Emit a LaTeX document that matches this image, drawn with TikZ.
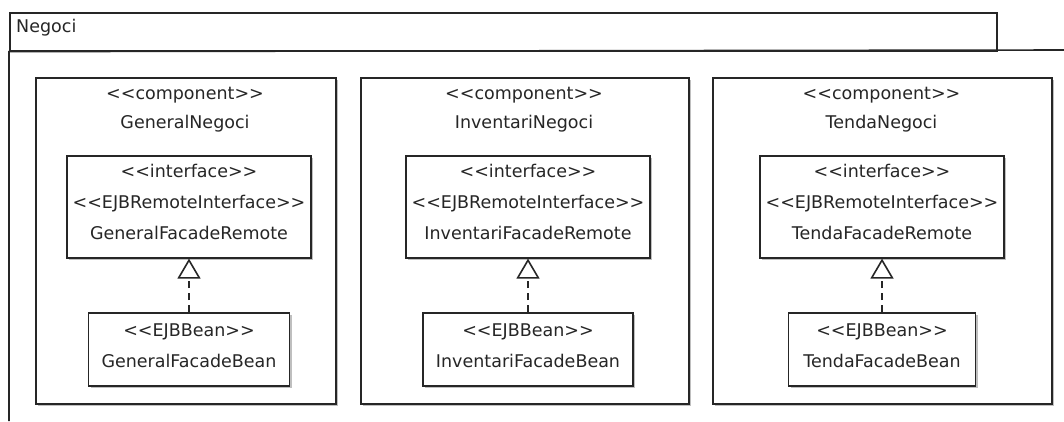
\documentclass[tikz,border=0pt]{standalone}
\usepackage{fontspec}
\newfontfamily\umlfont{DejaVu Sans}
\usetikzlibrary{arrows.meta,shadows}
\begin{document}
\begin{tikzpicture}[x=1pt,y=-1pt,
  every node/.style={font=\umlfont\fontsize{17.5}{31}\selectfont, text=black!85},
  frame/.style={draw=black!85, line width=1.6pt},
  box/.style={frame, fill=white, general shadow={fill=black!25, shadow xshift=2pt, shadow yshift=-2pt}, inner sep=0pt, align=center},
  ifacebox/.style={box, anchor=north, minimum width=244pt, minimum height=102pt, text depth=10pt},
  beanbox/.style={box, anchor=north, minimum height=73pt, text depth=7pt},
  txt/.style={inner sep=0pt},
  realize/.style={frame, dash pattern=on 7pt off 5pt, -{Triangle[open, length=20pt, width=23pt, line width=1.6pt]}}
]
\useasboundingbox (0,0) rectangle (1064,421);
\fill[white] (0,0) rectangle (1064,421);
% package
\node[frame, fill=white, anchor=north west, minimum width=987pt, minimum height=38pt, inner sep=0pt] (tab) at (9,12) {};
\node[txt, anchor=west] (pkgname) at (16,28) {Negoci};
\coordinate (bodyR) at (1064,50);
\coordinate (bodyB) at (9,421);
\draw[frame] (bodyB) -- (tab.south west) -- (bodyR);

% components
\node[box, anchor=north west, minimum width=300pt, minimum height=326pt] (c1) at (35,77) {};
\node[box, anchor=north west, minimum width=328pt, minimum height=326pt] (c2) at (360,77) {};
\node[box, anchor=north west, minimum width=339pt, minimum height=326pt] (c3) at (712,77) {};

\node[txt] (c1s) at (185,95) {<<component>>};
\node[txt] (c1n) at (185,124) {GeneralNegoci};
\node[txt] (c2s) at (524,95) {<<component>>};
\node[txt] (c2n) at (524,124) {InventariNegoci};
\node[txt] (c3s) at (881.5,95) {<<component>>};
\node[txt] (c3n) at (881.5,124) {TendaNegoci};

% interfaces
\node[ifacebox] (i1) at (189,155) {<<interface>>\\<<EJBRemoteInterface>>\\GeneralFacadeRemote};
\node[ifacebox] (i2) at (528,155) {<<interface>>\\<<EJBRemoteInterface>>\\InventariFacadeRemote};
\node[ifacebox] (i3) at (882,155) {<<interface>>\\<<EJBRemoteInterface>>\\TendaFacadeRemote};

% beans
\node[beanbox, minimum width=201pt] (b1) at (189,312) {<<EJBBean>>\\GeneralFacadeBean};
\node[beanbox, minimum width=210pt] (b2) at (528,312) {<<EJBBean>>\\InventariFacadeBean};
\node[beanbox, minimum width=187pt] (b3) at (882,312) {<<EJBBean>>\\TendaFacadeBean};

% realizations
\draw[realize] (b1) -- (i1);
\draw[realize] (b2) -- (i2);
\draw[realize] (b3) -- (i3);
\end{tikzpicture}
\end{document}
